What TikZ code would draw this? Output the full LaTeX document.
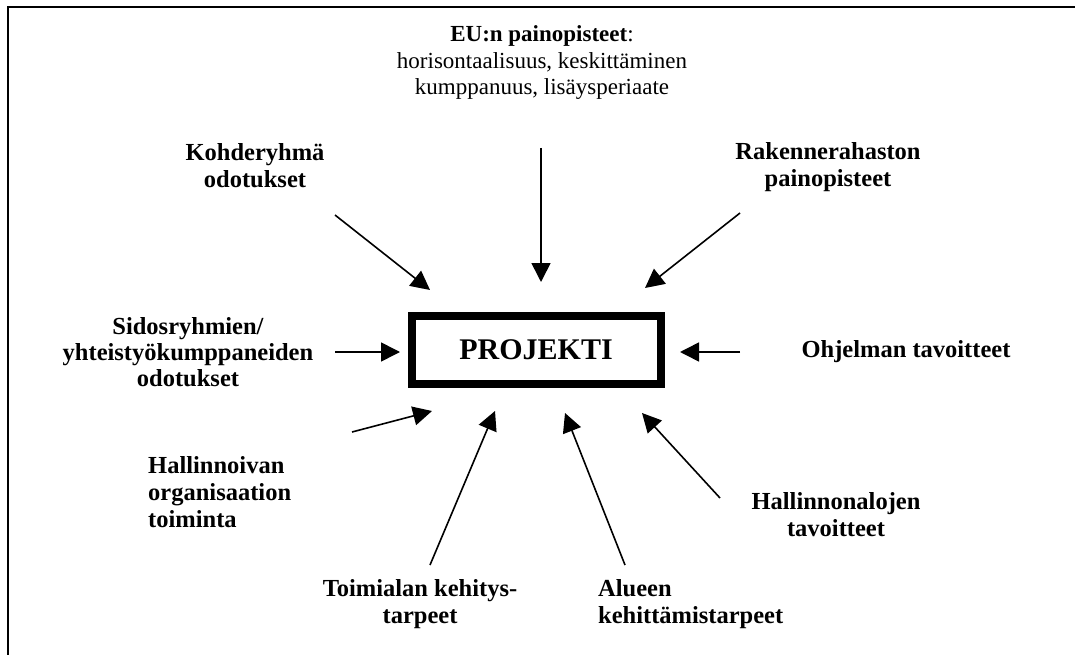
\documentclass[tikz,border=0pt]{standalone}
\usepackage{fontspec}
\setmainfont{Liberation Serif}
\usetikzlibrary{arrows.meta}

\tikzset{
  label/.style={font=\fontsize{24.5}{27}\selectfont\bfseries, align=center, inner sep=0pt},
  into/.style={line width=1.6pt, -{Triangle[length=19pt,width=19pt]}},
}

\begin{document}
\begin{tikzpicture}[x=1pt, y=-1pt]
	\useasboundingbox (0,0) rectangle (1075,655);
	\draw[line width=2pt] (8,655) -- (8,7) -- (1075,7);

	\node[draw, line width=8pt, minimum width=249pt, minimum height=68pt,
		font=\fontsize{30}{34}\selectfont\bfseries] (proj) at (536,350) {PROJEKTI};

	\node[label, font=\fontsize{23}{26.5}\selectfont\bfseries] (eu) at (542,63)
		{EU:n painopisteet\textmd{:}\\
		\mdseries horisontaalisuus, keskittäminen\\\mdseries kumppanuus, lisäysperiaate};
	\node[label] (kohde) at (255,166) {Kohderyhmä\\odotukset};
	\node[label] (rakenne) at (828,167) {Rakennerahaston\\painopisteet};
	\node[label, font=\fontsize{24.5}{26}\selectfont\bfseries] (sidos) at (188,352)
		{Sidosryhmien/\\yhteistyökumppaneiden\\odotukset};
	\node[label] (ohjelma) at (906,352) {Ohjelman tavoitteet};
	\node[label, align=left, anchor=west] (hallinto) at (148,492) {Hallinnoivan\\organisaation\\toiminta};
	\node[label] (alat) at (836,515) {Hallinnonalojen\\tavoitteet};
	\begin{scope}
		\clip (0,0) rectangle (1075,628);
		\node[label] (toimiala) at (420,604) {Toimialan kehitys-\\tarpeet};
		\node[label, align=left, anchor=west] (alue) at (598,604) {Alueen\\kehittämistarpeet};
	\end{scope}

	% arrow ends
	\coordinate (eu1) at (541,148);   \coordinate (eu2) at (541,282);
	\coordinate (ko1) at (335,215);   \coordinate (ko2) at (430,290);
	\coordinate (ra1) at (740,213);   \coordinate (ra2) at (645,288);
	\coordinate (si1) at (335,352);   \coordinate (si2) at (400,352);
	\coordinate (oh1) at (740,352);   \coordinate (oh2) at (680,352);
	\coordinate (ha1) at (352,432);   \coordinate (ha2) at (432,411);
	\coordinate (to1) at (430,565);   \coordinate (to2) at (495,411);
	\coordinate (al1) at (625,565);   \coordinate (al2) at (565,413);
	\coordinate (hn1) at (720,498);   \coordinate (hn2) at (642,413);

	\path[into]
	(eu1) edge (eu2)
	(ko1) edge (ko2)
	(ra1) edge (ra2)
	(si1) edge (si2)
	(oh1) edge (oh2)
	(ha1) edge (ha2)
	(to1) edge (to2)
	(al1) edge (al2)
	(hn1) edge (hn2);
\end{tikzpicture}
\end{document}
